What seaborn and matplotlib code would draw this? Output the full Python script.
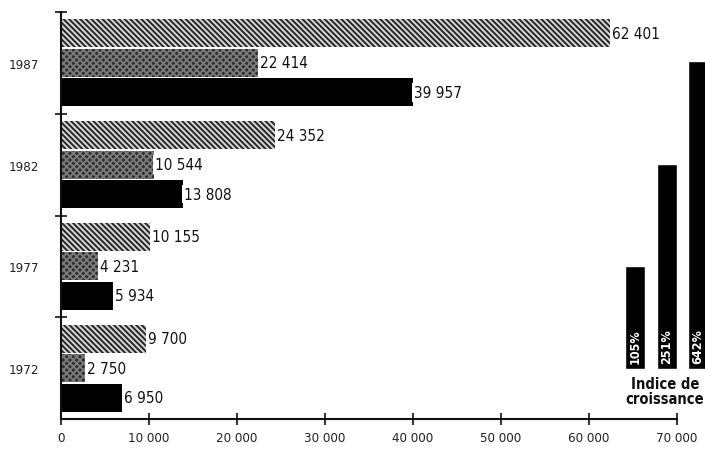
import matplotlib
matplotlib.use('Agg')
import matplotlib.pyplot as plt
import seaborn as sns
import pandas as pd

# ---- data ----
years = ['1987', '1982', '1977', '1972']
series_names = ['Ensemble', 'Série B', 'Série C']
total_vals = [62401, 24352, 10155, 9700]
mid_vals = [22414, 10544, 4231, 2750]
dark_vals = [39957, 13808, 5934, 6950]
xtick_vals = [0, 10000, 20000, 30000, 40000, 50000, 60000, 70000]
xtick_labels = ['0', '10 000', '20 000', '30 000', '40 000', '50 000', '60 000', '70 000']
index_cats = ['1977', '1982', '1987']
index_labels = ['105%', '251%', '642%']
index_heights = [1, 2, 3]
index_title = 'Indice de\ncroissance'

sns.set_theme(style='white')
plt.rcParams['font.family'] = ['DejaVu Sans']
plt.rcParams['font.stretch'] = 'condensed'
plt.rcParams['hatch.linewidth'] = 1.4

df = pd.DataFrame({
    'annee': years * 3,
    'serie': [series_names[0]] * 4 + [series_names[1]] * 4 + [series_names[2]] * 4,
    'valeur': total_vals + mid_vals + dark_vals,
})

W, H = 705, 452
fig = plt.figure(figsize=(W / 100, H / 100), dpi=100)
fig.patch.set_facecolor('white')
ax = fig.add_axes([61 / W, (H - 420) / H, (677 - 61) / W, (420 - 13) / H])

sns.barplot(data=df, y='annee', x='valeur', hue='serie', order=years,
            hue_order=series_names, orient='h',
            palette=['#d6d6d6', '#2c2c2c', '#000000'], saturation=1,
            width=0.87, gap=0.05, legend=False, ax=ax, errorbar=None)

styles = [('\\\\\\\\\\\\', '#262626'), ('xxxxx', '#7a7a7a'), (None, '#000000')]
for cont, (hatch, ec) in zip(ax.containers, styles):
    for bar in cont:
        if hatch:
            bar.set_hatch(hatch)
        bar.set_edgecolor(ec)
        bar.set_linewidth(0)
    ax.bar_label(cont, labels=[f'{int(v):,}'.replace(',', ' ') for v in cont.datavalues],
                 padding=1, fontsize=11, color='#111', fontstretch='condensed',
                 bbox=dict(facecolor='white', edgecolor='none', pad=1.2))

ax.set_xlim(0, 70000)
ax.set_ylim(3.5, -0.5)
ax.set_xticks(xtick_vals)
ax.set_xticklabels(xtick_labels, fontsize=9.5, color='#222', fontstretch='condensed')
ax.set_yticks(range(len(years)))
ax.set_yticklabels(years, fontsize=9.5, color='#222', fontstretch='condensed')
ax.set_yticks([-0.5, 0.5, 1.5, 2.5], minor=True)
ax.tick_params(axis='y', which='major', left=True, length=0, pad=16)
ax.tick_params(axis='y', which='minor', left=True, direction='inout', length=9, width=1.2, color='#111')
ax.tick_params(axis='x', which='major', bottom=True, direction='inout', length=8, width=1.2, color='#111', pad=5)
ax.set_xlabel('')
ax.set_ylabel('')
for s in ['top', 'right']:
    ax.spines[s].set_visible(False)
for s in ['left', 'bottom']:
    ax.spines[s].set_color('#111')
    ax.spines[s].set_linewidth(1.5)

# ---- inset: growth index ----
unit = 31.5
left_px = 615
iax = fig.add_axes([left_px / W, (H - 370) / H, (W - left_px) / W, 308 / H])
idf = pd.DataFrame({'annee': index_cats, 'indice': index_heights})
sns.barplot(data=idf, x='annee', y='indice', order=index_cats, color='black',
            saturation=1, width=20 / unit, ax=iax, errorbar=None)
iax.set_xlim(-(635 - left_px) / unit, (W - 635) / unit)
iax.set_ylim(0, 3)
iax.axis('off')
for i, lab in enumerate(index_labels):
    iax.text(i, 0.06, lab, rotation=90, color='white', fontsize=9,
             fontweight='bold', fontstretch='condensed', ha='center', va='bottom')
fig.text(665 / W, 1 - 392 / H, index_title, ha='center', va='center',
         fontsize=10.5, fontweight='bold', fontstretch='condensed',
         color='#111', linespacing=1.05)

fig.savefig('out.png', dpi=100, facecolor='white')
